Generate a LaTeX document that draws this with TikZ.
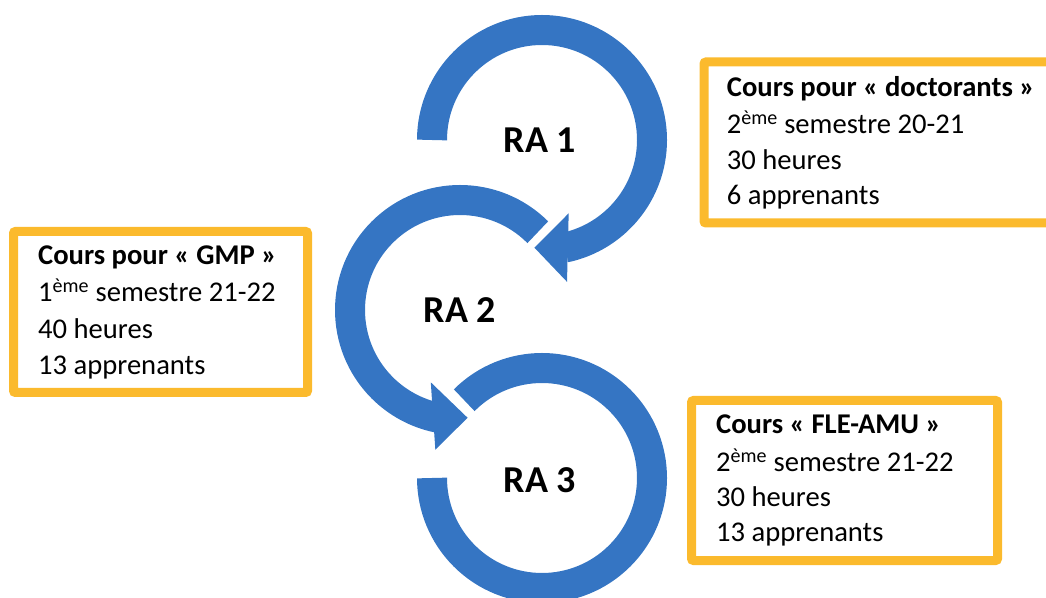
\documentclass[tikz,border=0pt]{standalone}
\usepackage{fontspec}
\setmainfont{Carlito}
\usetikzlibrary{calc}
\definecolor{ringblue}{RGB}{53,117,195}
\definecolor{boxorange}{RGB}{251,186,45}
\tikzset{
  ring/.style={draw=ringblue, line width=30pt},
  ralabel/.style={font=\fontsize{38}{40}\selectfont\bfseries, inner sep=0pt},
  boxframe/.style={draw=boxorange, line width=9pt, rounded corners=2pt, outer sep=0pt,
    anchor=north west, inner sep=0pt},
  line/.style={anchor=base west, inner sep=0pt, font=\fontsize{28.6}{34}\selectfont},
  headline/.style={line, font=\fontsize{28.6}{34}\selectfont\bfseries}
}
\begin{document}
\begin{tikzpicture}[x=1pt,y=1pt]
\useasboundingbox (0,0) rectangle (1046,597);
\clip (0,0) rectangle (1046,597);
\coordinate (C1) at (542,457);
\coordinate (C2) at (460,287);
\coordinate (C3) at (542,119);
% ring 1
\draw[ring] ($(C1)+(180:110pt)$) arc[start angle=180, end angle=-78, radius=110pt];
\fill[ringblue] ($(C1)+(-70:78pt)$) -- ($(C1)+(-80:144pt)$) -- ($(C1)+(-94:108pt)$) -- cycle;
% ring 2
\draw[ring] ($(C2)+(45:110pt)$) arc[start angle=45, end angle=258, radius=110pt];
\fill[ringblue] ($(C2)+(248:78pt)$) -- ($(C2)+(260:142pt)$) -- ($(C2)+(274:108pt)$) -- cycle;
% ring 3
\draw[ring] ($(C3)+(135:110pt)$) arc[start angle=135, end angle=-180, radius=110pt];
% labels
\node[ralabel] (ra1) at ($(C1)+(-2,0)$) {RA 1};
\node[ralabel] (ra2) at (C2) {RA 2};
\node[ralabel] (ra3) at ($(C3)+(-2,-2)$) {RA 3};
% boxes
\node[boxframe, minimum width=380pt, minimum height=161pt] (b1) at (704,535) {};
\node[headline] (b1l1) at (726.7,500.3) {Cours pour « doctorants »};
\node[line] (b1l2) at (726.7,463.7) {2\textsuperscript{ème} semestre 20-21};
\node[line] (b1l3) at (726.7,427) {30 heures};
\node[line] (b1l4) at (726.7,392) {6 apprenants};

\node[boxframe, minimum width=294pt, minimum height=161pt] (b2) at (13.5,365.5) {};
\node[headline] (b2l1) at (38,332) {Cours pour « GMP »};
\node[line] (b2l2) at (38,295.3) {1\textsuperscript{ème} semestre 21-22};
\node[line] (b2l3) at (38,258.7) {40 heures};
\node[line] (b2l4) at (38,222) {13 apprenants};

\node[boxframe, minimum width=306pt, minimum height=160pt] (b3) at (691.5,196.5) {};
\node[headline] (b3l1) at (716,163.7) {Cours « FLE-AMU »};
\node[line] (b3l2) at (716,125.3) {2\textsuperscript{ème} semestre 21-22};
\node[line] (b3l3) at (716,90.3) {30 heures};
\node[line] (b3l4) at (716,55.3) {13 apprenants};
\end{tikzpicture}
\end{document}
